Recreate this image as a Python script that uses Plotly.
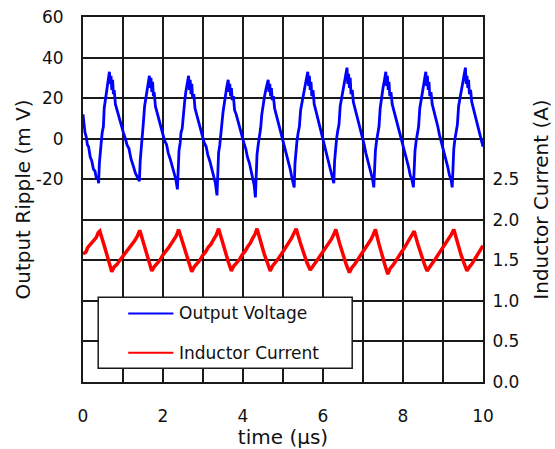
import plotly.graph_objects as go


# Output voltage ripple (mV) vs time (us)

t_voltage = [
    0.00, 0.02, 0.05, 0.08, 0.11, 0.14, 0.18, 0.22, 0.26, 0.30, 0.34, 0.37,
    0.39, 0.41, 0.43, 0.46, 0.48, 0.51, 0.53, 0.56, 0.59, 0.62, 0.66, 0.68, 0.70, 0.72, 0.74, 0.76, 0.78, 0.81,
    0.85, 0.90, 0.96, 1.01, 1.06, 1.10, 1.15, 1.20, 1.25, 1.31, 1.36,
    1.41, 1.43, 1.45, 1.47, 1.49, 1.51, 1.54, 1.57, 1.60, 1.63, 1.66, 1.68, 1.70, 1.72, 1.74, 1.76, 1.78, 1.81,
    1.85, 1.90, 1.95, 2.00, 2.04, 2.09, 2.13, 2.18, 2.23, 2.28, 2.32,
    2.36, 2.38, 2.40, 2.43, 2.45, 2.48, 2.51, 2.54, 2.57, 2.60, 2.64, 2.66, 2.68, 2.70, 2.72, 2.74, 2.77, 2.80,
    2.84, 2.89, 2.94, 2.99, 3.03, 3.08, 3.12, 3.17, 3.22, 3.27, 3.31,
    3.35, 3.37, 3.39, 3.42, 3.44, 3.47, 3.50, 3.53, 3.56, 3.59, 3.63, 3.65, 3.67, 3.69, 3.71, 3.73, 3.76, 3.79,
    3.83, 3.88, 3.93, 3.98, 4.02, 4.07, 4.11, 4.16, 4.21, 4.25, 4.28,
    4.31, 4.33, 4.35, 4.38, 4.41, 4.44, 4.47, 4.50, 4.54, 4.58, 4.63, 4.65, 4.67, 4.69, 4.71, 4.73, 4.76, 4.79,
    4.83, 4.88, 4.93, 4.97, 5.01, 5.05, 5.09, 5.13, 5.18, 5.22, 5.25,
    5.28, 5.30, 5.32, 5.35, 5.38, 5.41, 5.44, 5.48, 5.52, 5.57, 5.62, 5.64, 5.66, 5.68, 5.70, 5.72, 5.75, 5.78,
    5.82, 5.87, 5.92, 5.96, 6.00, 6.04, 6.08, 6.12, 6.17, 6.21, 6.24,
    6.27, 6.29, 6.31, 6.34, 6.37, 6.40, 6.43, 6.47, 6.51, 6.55, 6.60, 6.62, 6.64, 6.66, 6.68, 6.70, 6.73, 6.76,
    6.80, 6.85, 6.90, 6.95, 6.99, 7.03, 7.07, 7.11, 7.16, 7.20, 7.24,
    7.27, 7.29, 7.31, 7.34, 7.37, 7.40, 7.43, 7.46, 7.50, 7.53, 7.57, 7.59, 7.61, 7.63, 7.65, 7.67, 7.70, 7.73,
    7.77, 7.82, 7.87, 7.92, 7.96, 8.00, 8.04, 8.09, 8.14, 8.18, 8.22,
    8.26, 8.28, 8.30, 8.33, 8.36, 8.39, 8.42, 8.46, 8.50, 8.53, 8.57, 8.59, 8.61, 8.63, 8.65, 8.67, 8.70, 8.73,
    8.77, 8.82, 8.87, 8.91, 8.95, 8.99, 9.03, 9.08, 9.12, 9.16, 9.20,
    9.23, 9.25, 9.27, 9.30, 9.33, 9.36, 9.39, 9.43, 9.47, 9.51, 9.56, 9.58, 9.60, 9.62, 9.64, 9.66, 9.69, 9.72,
    9.76, 9.81, 9.86, 9.91, 9.95, 10.00,
]

v_ripple = [
    12, 7, 3, 1, -3, -4, -9, -11, -15, -16, -20, -19,
    -22, -12, -6, -1, 3, 6, 15, 19, 24, 27, 33, 27, 31, 24, 29, 22, 24, 17,
    14, 10, 6, 3, 0, -3, -5, -10, -13, -17, -19,
    -21, -11, -5, 0, 4, 8, 16, 20, 25, 27, 31, 25, 30, 23, 28, 21, 23, 16,
    13, 10, 6, 3, -1, -3, -7, -10, -14, -18, -20,
    -25, -13, -6, -2, 3, 5, 14, 18, 23, 26, 31, 24, 29, 22, 27, 20, 22, 15,
    12, 9, 5, 2, -2, -4, -8, -11, -15, -19, -22,
    -28, -14, -7, -3, 2, 5, 13, 17, 22, 25, 29, 23, 27, 21, 25, 19, 21, 14,
    12, 8, 5, 1, -2, -5, -9, -12, -16, -20, -23,
    -29, -15, -8, -3, 1, 5, 12, 17, 21, 25, 29, 23, 27, 21, 25, 19, 21, 15,
    12, 8, 5, 1, -2, -4, -8, -11, -15, -19, -21,
    -24, -12, -6, -1, 3, 6, 14, 19, 24, 28, 33, 26, 31, 24, 28, 21, 24, 17,
    14, 10, 6, 2, -1, -3, -7, -10, -14, -17, -19,
    -22, -11, -5, 0, 4, 7, 16, 21, 26, 29, 35, 27, 32, 25, 30, 22, 24, 18,
    15, 11, 7, 3, 0, -3, -7, -10, -14, -18, -20,
    -24, -12, -6, -1, 3, 6, 15, 20, 25, 28, 33, 26, 31, 24, 28, 21, 23, 17,
    14, 10, 6, 3, -1, -3, -7, -10, -14, -18, -20,
    -24, -12, -6, -1, 3, 6, 15, 20, 25, 28, 33, 26, 31, 24, 28, 21, 23, 17,
    14, 10, 6, 2, -1, -3, -7, -10, -14, -18, -20,
    -24, -11, -5, 0, 4, 7, 16, 21, 26, 29, 35, 27, 31, 25, 29, 22, 24, 18,
    15, 11, 7, 3, 1, -4,
]


# Inductor current (A) vs time (us)

t_current = [
    0.00, 0.07, 0.12, 0.20, 0.27, 0.33, 0.38, 0.42, 0.52, 0.60, 0.66, 0.72,
    0.78, 0.85, 0.92, 1.00, 1.07, 1.14, 1.22, 1.29, 1.36, 1.42, 1.52, 1.60, 1.66, 1.72,
    1.78, 1.85, 1.92, 1.99, 2.06, 2.13, 2.20, 2.27, 2.33, 2.39, 2.50, 2.58, 2.65, 2.72,
    2.78, 2.85, 2.92, 2.99, 3.06, 3.13, 3.20, 3.27, 3.33, 3.39, 3.49, 3.57, 3.64, 3.71,
    3.77, 3.84, 3.91, 3.98, 4.05, 4.12, 4.18, 4.24, 4.30, 4.35, 4.45, 4.53, 4.61, 4.68,
    4.74, 4.81, 4.88, 4.95, 5.02, 5.09, 5.15, 5.21, 5.27, 5.33, 5.43, 5.51, 5.60, 5.68,
    5.74, 5.81, 5.88, 5.95, 6.02, 6.09, 6.15, 6.21, 6.27, 6.32, 6.42, 6.50, 6.58, 6.66,
    6.72, 6.79, 6.86, 6.93, 7.00, 7.07, 7.13, 7.19, 7.25, 7.31, 7.40, 7.48, 7.55, 7.62,
    7.68, 7.75, 7.82, 7.89, 7.96, 8.03, 8.09, 8.16, 8.22, 8.28, 8.37, 8.45, 8.53, 8.60,
    8.66, 8.73, 8.80, 8.87, 8.94, 9.01, 9.08, 9.14, 9.21, 9.27, 9.37, 9.45, 9.53, 9.60,
    9.66, 9.73, 9.80, 9.87, 9.94, 10.00,
]

i_inductor = [
    1.58, 1.60, 1.66, 1.70, 1.75, 1.78, 1.84, 1.86, 1.70, 1.56, 1.46, 1.36,
    1.42, 1.45, 1.50, 1.55, 1.60, 1.64, 1.70, 1.74, 1.80, 1.87, 1.70, 1.57, 1.46, 1.37,
    1.42, 1.46, 1.50, 1.56, 1.60, 1.65, 1.70, 1.75, 1.80, 1.88, 1.70, 1.57, 1.46, 1.36,
    1.42, 1.46, 1.50, 1.56, 1.60, 1.66, 1.70, 1.76, 1.81, 1.89, 1.71, 1.58, 1.47, 1.37,
    1.43, 1.47, 1.51, 1.57, 1.61, 1.67, 1.71, 1.77, 1.82, 1.89, 1.71, 1.58, 1.47, 1.37,
    1.43, 1.47, 1.52, 1.57, 1.62, 1.67, 1.72, 1.77, 1.83, 1.89, 1.72, 1.59, 1.47, 1.38,
    1.43, 1.47, 1.52, 1.57, 1.61, 1.66, 1.71, 1.76, 1.82, 1.88, 1.70, 1.56, 1.45, 1.35,
    1.41, 1.45, 1.50, 1.55, 1.60, 1.65, 1.70, 1.75, 1.81, 1.88, 1.70, 1.55, 1.44, 1.33,
    1.40, 1.44, 1.50, 1.55, 1.60, 1.65, 1.70, 1.75, 1.80, 1.86, 1.70, 1.57, 1.46, 1.37,
    1.42, 1.46, 1.51, 1.56, 1.61, 1.66, 1.71, 1.76, 1.82, 1.88, 1.70, 1.57, 1.46, 1.37,
    1.42, 1.46, 1.52, 1.57, 1.62, 1.68,
]


# Axis ticks

x_ticks = [0, 1, 2, 3, 4, 5, 6, 7, 8, 9, 10]
x_labels = ["0", "", "2", "", "4", "", "6", "", "8", "", "10"]

mv_ticks = [-120, -100, -80, -60, -40, -20, 0, 20, 40, 60]
mv_labels = ["", "", "", "", "", "-20", "0", "20", "40", "60"]

a_ticks = [0.0, 0.5, 1.0, 1.5, 2.0, 2.5, 3.0, 3.5, 4.0, 4.5]
a_labels = ["0.0", "0.5", "1.0", "1.5", "2.0", "2.5", "", "", "", ""]

legend_names = ["Output Voltage", "Inductor Current"]
legend_colors = ["#0000ff", "#ff0000"]


FONT = dict(family="DejaVu Sans", size=17, color="#111111")


def ripple_chart():

    fig = go.Figure()

    fig.add_trace(go.Scatter(
        x=t_voltage,
        y=v_ripple,
        mode="lines",
        name=legend_names[0],
        line=dict(color=legend_colors[0], width=2.8),
        yaxis="y",
    ))

    fig.add_trace(go.Scatter(
        x=t_current,
        y=i_inductor,
        mode="lines",
        name=legend_names[1],
        line=dict(color=legend_colors[1], width=3.5),
        yaxis="y2",
    ))

    fig.update_layout(
        width=555,
        height=449,
        margin=dict(l=83, r=72, t=17, b=67),
        paper_bgcolor="white",
        plot_bgcolor="white",
        font=FONT,
        showlegend=False,
        xaxis=dict(
            range=[0, 10],
            tickvals=x_ticks,
            ticktext=x_labels,
            ticks="outside",
            ticklen=18,
            tickcolor="rgba(0,0,0,0)",
            showgrid=True,
            gridcolor="#1a1a1a",
            gridwidth=2,
            zeroline=False,
            showline=True,
            linecolor="#1a1a1a",
            linewidth=2,
            mirror=True,
            automargin=False,
            title=dict(text="time (µs)", standoff=9),
        ),
        yaxis=dict(
            range=[-120, 60],
            tickvals=mv_ticks,
            ticktext=mv_labels,
            ticks="outside",
            ticklen=14,
            tickcolor="rgba(0,0,0,0)",
            showgrid=True,
            gridcolor="#1a1a1a",
            gridwidth=2,
            zeroline=False,
            showline=True,
            linecolor="#1a1a1a",
            linewidth=2,
            mirror=True,
            automargin=False,
            title=dict(text="Output Ripple (m V)", standoff=0),
        ),
        yaxis2=dict(
            range=[0, 4.5],
            tickvals=a_ticks,
            ticktext=a_labels,
            overlaying="y",
            side="right",
            ticks="outside",
            ticklen=5,
            tickcolor="rgba(0,0,0,0)",
            showgrid=False,
            zeroline=False,
            automargin=False,
            title=dict(text="Inductor Current (A)", standoff=15),
        ),
    )

    # legend box drawn inside the plot, as in the original
    fig.add_shape(
        type="rect", xref="paper", yref="paper",
        x0=0.038, x1=0.673, y0=0.038, y1=0.232,
        fillcolor="white", line=dict(color="#1a1a1a", width=1.5),
        layer="above",
    )

    rows = [0.188, 0.080]
    for name, color, yy in zip(legend_names, legend_colors, rows):
        fig.add_shape(
            type="line", xref="paper", yref="paper",
            x0=0.113, x1=0.226, y0=yy, y1=yy,
            line=dict(color=color, width=2), layer="above",
        )
        fig.add_annotation(
            x=0.235, y=yy, xref="paper", yref="paper",
            text=name, showarrow=False,
            xanchor="left", yanchor="middle",
            font=FONT,
        )

    return fig


fig = ripple_chart()
fig.write_html(
    "out.html",
    config={"displayModeBar": False},
    post_script="document.body.style.margin='0';document.body.style.overflow='hidden';",
)
